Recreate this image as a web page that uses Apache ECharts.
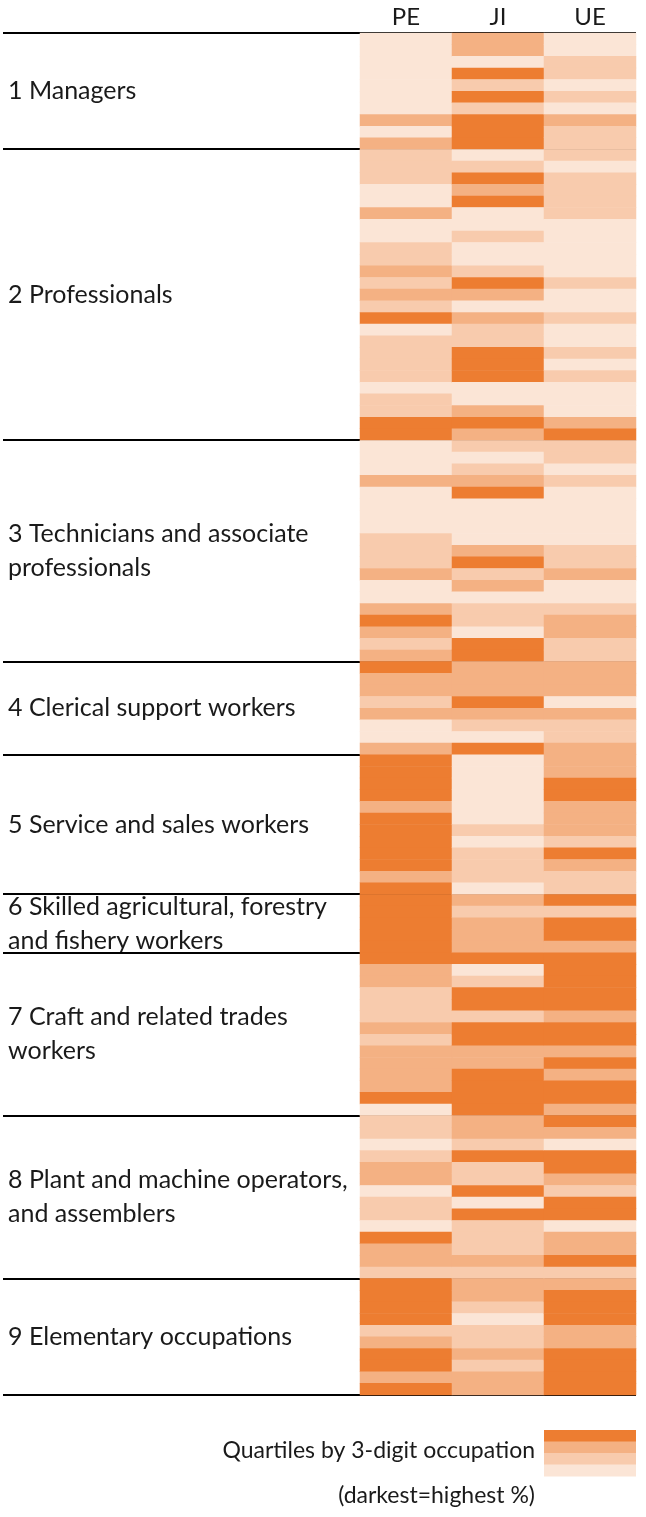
<!DOCTYPE html>
<html><head><meta charset="utf-8">
<script src="https://cdn.jsdelivr.net/npm/echarts@6/dist/echarts.min.js"></script>
<style>html,body{margin:0;padding:0;background:#fff}#c{width:646px;height:1517px}</style>
</head><body><div id="c"></div>
<script>
const columns = ['PE', 'JI', 'UE'];
const groupLabels = [
  '1 Managers',
  '2 Professionals',
  '3 Technicians and associate\nprofessionals',
  '4 Clerical support workers',
  '5 Service and sales workers',
  '6 Skilled agricultural, forestry\nand fishery workers',
  '7 Craft and related trades\nworkers',
  '8 Plant and machine operators,\nand assemblers',
  '9 Elementary occupations'
];
const groupSizes = [10, 25, 19, 8, 12, 5, 14, 14, 10];
// quartile (1 = lowest, 4 = highest) per 3-digit occupation, top to bottom
const pe = [
  1,1,1,1,1,1,1,3,1,3,
  2,2,2,1,1,3,1,1,2,2,3,2,3,2,4,1,2,2,2,2,1,2,2,4,4,
  1,1,1,3,1,1,1,1,2,2,2,3,1,1,3,4,3,2,3,
  4,3,3,2,3,1,1,3,
  4,4,4,4,3,4,4,4,4,4,3,4,
  4,4,4,4,4,
  4,3,3,2,2,2,3,2,3,3,3,3,4,1,
  2,2,1,2,3,3,1,2,2,1,4,3,3,2,
  4,4,4,4,2,3,4,4,3,4
];
const ji = [
  3,3,1,4,2,4,2,4,4,4,
  1,2,4,3,4,1,1,2,1,1,2,4,3,1,3,2,2,4,4,4,1,1,3,4,3,
  2,1,2,3,4,1,1,1,1,3,4,2,3,1,2,2,1,4,4,
  3,3,3,4,3,2,1,4,
  1,1,1,1,1,1,2,1,2,2,2,1,
  3,2,3,3,3,
  4,1,2,4,4,2,4,4,3,3,4,4,4,4,
  3,3,2,4,2,2,4,1,4,2,2,2,3,2,
  3,3,2,1,2,2,3,2,3,3
];
const ue = [
  1,1,2,2,1,2,1,3,2,2,
  2,1,2,2,2,2,1,1,1,1,1,2,1,1,2,1,1,2,1,2,1,1,1,3,4,
  2,2,1,2,1,1,1,1,1,2,2,3,1,1,2,3,3,2,2,
  3,3,3,1,3,2,2,3,
  3,3,4,4,3,3,3,2,4,3,2,2,
  4,2,4,4,3,
  4,4,4,4,4,3,4,4,3,4,3,4,4,3,
  4,3,1,4,4,3,2,4,4,1,3,3,4,2,
  3,4,4,4,3,3,4,4,4,4
];
const quartileColors = ['#FBE5D6', '#F8CBAD', '#F4B183', '#ED7D31'];
const legendTitle = ['Quartiles by 3-digit occupation', '(darkest=highest %)'];

(function () {
  const rows = [];
  groupSizes.forEach((n, g) => { for (let i = 0; i < n; i++) rows.push((g + 1) + '.' + (i + 1)); });
  const data = [];
  [pe, ji, ue].forEach((arr, x) => arr.forEach((v, y) => data.push([x, y, v])));

  const FONT = 'Lato, "Open Sans", sans-serif';
  const TXT = '#1a1a1a';
  const chart = echarts.init(document.getElementById('c'), null, { renderer: 'canvas' });
  chart.setOption({
    animation: false,
    grid: { left: 360, right: 10, top: 33, bottom: 122 },
    xAxis: {
      type: 'category', data: columns, position: 'top',
      axisLine: { show: false }, axisTick: { show: false }, splitLine: { show: false },
      axisLabel: { fontSize: 24, color: TXT, fontFamily: FONT, margin: 4 }
    },
    yAxis: { type: 'category', data: rows, inverse: true, show: false },
    visualMap: {
      type: 'piecewise', show: false, dimension: 2,
      pieces: quartileColors.map((c, i) => ({ value: i + 1, color: c }))
    },
    series: [{ type: 'heatmap', data: data, itemStyle: { borderWidth: 0 }, emphasis: { disabled: true } }]
  });

  const c0 = chart.convertToPixel({ gridIndex: 0 }, [0, 0]);
  const cN = chart.convertToPixel({ gridIndex: 0 }, [0, rows.length - 1]);
  const c1 = chart.convertToPixel({ gridIndex: 0 }, [1, 0]);
  const rowH = (cN[1] - c0[1]) / (rows.length - 1);
  const rowTop = r => c0[1] + (r - 0.5) * rowH;
  const colW = c1[0] - c0[0];
  const xRight = c0[0] + colW * 2.5;

  const gfx = [];
  let start = 0;
  const bounds = [0];
  groupSizes.forEach((n, g) => {
    const end = start + n;
    bounds.push(end);
    gfx.push({
      type: 'text', silent: true, x: 8, y: (rowTop(start) + rowTop(end)) / 2,
      style: { text: groupLabels[g], fill: TXT, font: '25px ' + FONT, lineHeight: 34, verticalAlign: 'middle', align: 'left' }
    });
    start = end;
  });
  bounds.forEach(b => {
    const y = Math.round(rowTop(b));
    gfx.push({ type: 'line', silent: true, shape: { x1: 3, y1: y, x2: xRight, y2: y }, style: { stroke: '#000', lineWidth: 2 } });
  });
  const legX = c0[0] + colW * 1.5;
  const legTop = 1430, legStep = 11.5;
  quartileColors.slice().reverse().forEach((c, i) => {
    gfx.push({ type: 'rect', silent: true, shape: { x: legX, y: legTop + i * legStep, width: xRight - legX, height: legStep + 0.5 }, style: { fill: c } });
  });
  gfx.push({ type: 'text', silent: true, x: legX - 9, y: 1451, style: { text: legendTitle[0], fill: TXT, font: '23px ' + FONT, align: 'right', verticalAlign: 'middle' } });
  gfx.push({ type: 'text', silent: true, x: legX - 9, y: 1496, style: { text: legendTitle[1], fill: TXT, font: '23px ' + FONT, align: 'right', verticalAlign: 'middle' } });
  chart.setOption({ graphic: gfx });
})();
</script></body></html>
